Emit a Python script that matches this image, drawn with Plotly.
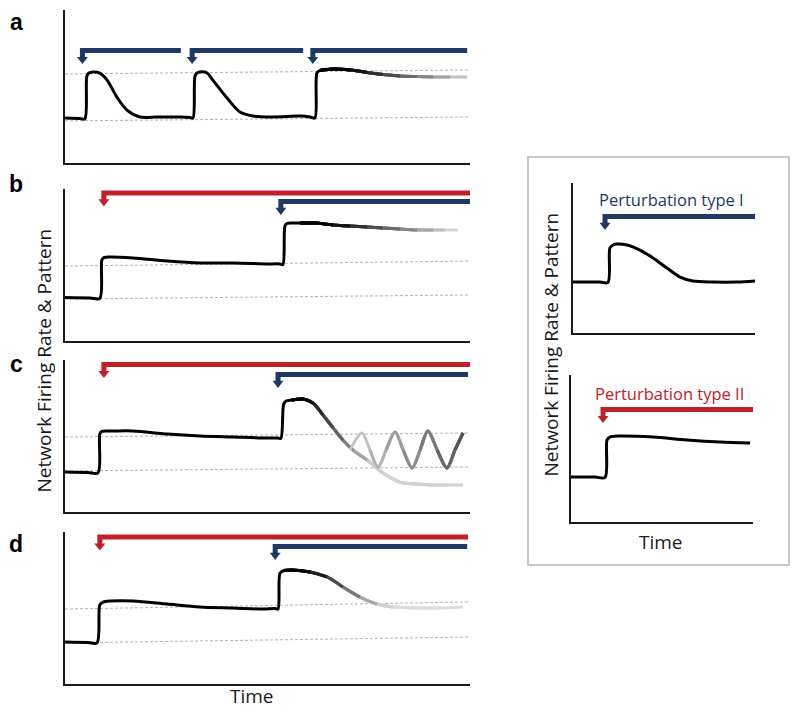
import plotly.graph_objects as go

# ---------------- data (time and firing rate in arbitrary 0-100 units) ----------------
# panel a : three successive type-I perturbations
a_time = [0, 3.7, 4.9, 5.4, 5.9, 6.9, 8.6, 10.4, 12.8, 15.3, 18.5, 22.7, 28.4, 30.9, 31.6,
          32.1, 32.6, 33.3, 35.1, 36.5, 40.0, 43.2, 46.4, 51.4, 58.0, 60.5, 61.7,
          62.2, 63.0, 66.2, 70.4, 74.6, 78.5, 82.7, 86.9, 90.9, 95.1, 99.3]
a_rate = [29.4, 29.1, 28.8, 56.9, 58.8, 59.5, 58.8, 54.2, 43.1, 34.6, 30.1, 30.1, 30.1, 29.7, 29.4,
          56.9, 58.8, 59.5, 58.8, 54.2, 42.5, 33.3, 30.7, 30.1, 30.7, 30.1, 29.4,
          58.8, 60.5, 61.4, 60.8, 59.2, 57.8, 56.9, 56.5, 56.2, 56.2, 56.2]

# panel b
b_time = [0, 6.2, 8.6, 9.1, 9.6, 11.1, 16.8, 25.2, 33.3, 41.5, 49.9, 53.1, 53.8,
          54.3, 54.8, 56.0, 58.0, 62.2, 66.2, 70.4, 74.6, 78.5, 82.7, 86.9, 90.9, 93.8, 97.0]
b_rate = [28.6, 28.3, 28.0, 53.3, 54.9, 55.3, 54.6, 52.6, 51.3, 51.3, 50.7, 50.7, 50.3,
          75.7, 77.3, 77.6, 77.6, 77.6, 76.3, 75.7, 75.0, 74.3, 73.7, 73.0, 73.0, 73.0, 73.0]

# panel c (main trace + oscillating branch)
c_time = [0, 5.7, 8.15, 8.6, 9.1, 10.4, 11.9, 16.8, 25.2, 33.3, 41.5, 48.9, 52.6, 53.3,
          54.0, 54.6, 56.0, 58.8, 61.2, 63.7, 66.2, 68.6, 71.1, 74.6, 78.5, 82.7, 86.9, 90.9, 94.6, 98.3]
c_rate = [26.3, 26.0, 25.7, 51.3, 53.0, 53.3, 53.3, 53.3, 51.3, 50.0, 49.3, 48.7, 48.7, 48.4,
          71.0, 73.0, 73.7, 74.3, 71.7, 63.8, 55.3, 47.4, 40.8, 34.2, 25.7, 19.7, 18.4, 17.8, 17.8, 17.8]
c_osc_time = [70.4, 73.3, 75.3, 77.3, 79.3, 81.5, 83.5, 85.7, 87.7, 89.6, 91.9, 94.3, 96.3, 98.3]
c_osc_rate = [40.8, 52.0, 40.8, 29.6, 40.8, 52.6, 40.8, 29.0, 40.8, 53.3, 40.8, 29.0, 40.8, 52.0]

# panel d
d_time = [0, 5.7, 7.9, 8.6, 9.4, 11.1, 16.8, 25.2, 33.3, 41.5, 48.9, 51.9, 52.6,
          53.1, 54.1, 56.3, 60.5, 64.7, 68.6, 72.8, 77.0, 81.0, 86.9, 92.6, 98.3]
d_rate = [27.6, 27.3, 27.0, 52.0, 53.9, 54.6, 54.6, 52.6, 50.7, 50.0, 49.3, 49.7, 49.3,
          73.0, 74.7, 75.0, 73.7, 70.4, 63.8, 57.2, 52.6, 50.7, 50.0, 50.0, 50.7]

# legend panels
t1_time = [0, 14.8, 19.2, 20.3, 22.0, 24.2, 29.7, 36.8, 44.0, 51.6, 58.8, 65.9, 76.9, 90.1, 100]
t1_rate = [34.0, 34.0, 33.7, 56.7, 58.7, 59.3, 58.7, 55.3, 50.0, 43.3, 37.3, 34.7, 34.0, 34.0, 34.7]
t2_time = [0, 13.2, 18.7, 19.8, 21.4, 26.9, 45.1, 63.7, 81.9, 98.4]
t2_rate = [30.6, 30.6, 30.3, 55.8, 57.8, 58.5, 57.8, 55.8, 54.4, 53.7]

# perturbations: onset time, end time, level, type
a_pert_onset = [4.3, 31.4, 61.2]
a_pert_end = [28.6, 58.8, 99.3]
a_pert_level = [73.5, 73.5, 73.5]
a_pert_type = ["I", "I", "I"]
b_pert_onset = [9.6, 53.3]
b_pert_end = [100, 100]
b_pert_level = [97.4, 91.8]
b_pert_type = ["II", "I"]
c_pert_onset = [9.6, 52.6]
c_pert_end = [100, 99.5]
c_pert_level = [97.0, 90.5]
c_pert_type = ["II", "I"]
d_pert_onset = [8.6, 51.9]
d_pert_end = [99.5, 99.3]
d_pert_level = [96.7, 90.5]
d_pert_type = ["II", "I"]
t1_pert_onset, t1_pert_end, t1_pert_level, t1_pert_type = [17.6], [100], [77.7], ["I"]
t2_pert_onset, t2_pert_end, t2_pert_level, t2_pert_type = [17.6], [100], [76.5], ["II"]

# dashed reference levels (left value, right value)
a_ref = [(27.5, 30.1), (58.2, 60.8)]
b_ref = [(27.6, 30.3), (49.3, 52.6)]
c_ref = [(27.0, 29.6), (49.3, 52.0)]
d_ref = [(27.0, 30.9), (49.3, 54.0)]

panel_letters = ["a", "b", "c", "d"]
y_title = "Network Firing Rate & Pattern"
x_title = "Time"
legend_titles = ["Perturbation type I", "Perturbation type II"]

# ---------------- style / layout ----------------
OFF = 8                      # default page margin around the plot div
W, H = 800 - OFF, 713 - OFF  # figure size so the page is exactly 800 x 713

BLUE = "#1F3864"
RED = "#C0202A"
PCOLOR = {"I": BLUE, "II": RED}
FONT = "Open Sans"


def px_x(px):
    return (px - OFF) / W


def px_y(py):
    return 1 - (py - OFF) / H


# name, x-left px, x-right px, y-top px, y-bottom px (page pixels)
PANELS = [
    ("a", 65, 470, 10, 163),
    ("b", 65, 470, 189, 341),
    ("c", 65, 470, 360, 512),
    ("d", 65, 470, 532, 684),
    ("t1", 573, 755, 183, 333),
    ("t2", 571, 753, 375, 522),
]
PIDX = {p[0]: i for i, p in enumerate(PANELS)}

fig = go.Figure()

axis_style = dict(range=[0, 100], showline=True, linecolor="#1a1a1a", linewidth=1.6,
                  showgrid=False, zeroline=False, showticklabels=False, ticks="",
                  fixedrange=True)
lay = {}
for i, (key, x0, x1, yt, yb) in enumerate(PANELS):
    n = "" if i == 0 else str(i + 1)
    lay["xaxis" + n] = dict(domain=[px_x(x0), px_x(x1)], anchor="y" + n, **axis_style)
    lay["yaxis" + n] = dict(domain=[px_y(yb), px_y(yt)], anchor="x" + n, **axis_style)
fig.update_layout(**lay)


def axrefs(key):
    i = PIDX[key]
    n = "" if i == 0 else str(i + 1)
    return "x" + n, "y" + n


def add_line(key, t, r, color, width=3, shape="spline", dash=None):
    xa, ya = axrefs(key)
    fig.add_trace(go.Scatter(x=list(t), y=list(r), mode="lines", xaxis=xa, yaxis=ya,
                             line=dict(color=color, width=width, shape=shape, smoothing=0.85,
                                       dash=dash),
                             hoverinfo="skip", showlegend=False))


def rgb(g):
    g = int(round(g))
    return f"rgb({g},{g},{g})"


def draw_curve(key, t, r, fade=None):
    if fade is None:
        add_line(key, t, r, "black")
        return
    f0, f1, g1 = fade

    def gray(tt):
        if tt <= f0:
            return 0
        if tt >= f1:
            return g1
        return g1 * (tt - f0) / (f1 - f0)

    n = len(t)
    k0 = max(i for i in range(n) if t[i] <= f0)
    for k in range(n - 1, k0, -1):
        g = gray((t[k - 1] + t[k]) / 2)
        add_line(key, t[k0 - 1:k + 1], r[k0 - 1:k + 1], rgb(g))
    add_line(key, t[:k0 + 1], r[:k0 + 1], "black")


def draw_refs(key, refs):
    for left, right in refs:
        add_line(key, [0, 100], [left, right], "#b4b4b4", width=1, shape="linear",
                 dash="3px,2px")


HEAD = 9.5


def draw_perts(key, onsets, ends, levels, types):
    _, x0, x1, yt, yb = PANELS[PIDX[key]]
    ppu = (yb - yt) / 100.0
    xa, ya = axrefs(key)
    for on, en, lv, ty in zip(onsets, ends, levels, types):
        col = PCOLOR[ty]
        stem_end = lv - 7.5 / ppu
        head_c = lv - (13.5 - HEAD / 2) / ppu
        fig.add_trace(go.Scatter(x=[en, on, on], y=[lv, lv, stem_end], mode="lines",
                                 xaxis=xa, yaxis=ya, line=dict(color=col, width=5),
                                 hoverinfo="skip", showlegend=False))
        fig.add_trace(go.Scatter(x=[on], y=[head_c], mode="markers", xaxis=xa, yaxis=ya,
                                 marker=dict(symbol="triangle-down", size=HEAD, color=col,
                                             line=dict(width=0)),
                                 cliponaxis=False, hoverinfo="skip", showlegend=False))


# reference levels
draw_refs("a", a_ref)
draw_refs("b", b_ref)
draw_refs("c", c_ref)
draw_refs("d", d_ref)

# firing-rate traces
draw_curve("a", a_time, a_rate, fade=(70, 99, 205))
draw_curve("b", b_time, b_rate, fade=(66, 97, 225))
draw_curve("c", c_time, c_rate, fade=(59, 77, 210))
# oscillating branch: gets darker over time
osc_starts = list(range(0, len(c_osc_time) - 1, 2))
for j, s in enumerate(osc_starts):
    g = 195 - (195 - 85) * j / (len(osc_starts) - 1)
    add_line("c", c_osc_time[s:], c_osc_rate[s:], rgb(g))
draw_curve("d", d_time, d_rate, fade=(60, 80, 220))
draw_curve("t1", t1_time, t1_rate)
draw_curve("t2", t2_time, t2_rate)

# perturbation arrows
draw_perts("a", a_pert_onset, a_pert_end, a_pert_level, a_pert_type)
draw_perts("b", b_pert_onset, b_pert_end, b_pert_level, b_pert_type)
draw_perts("c", c_pert_onset, c_pert_end, c_pert_level, c_pert_type)
draw_perts("d", d_pert_onset, d_pert_end, d_pert_level, d_pert_type)
draw_perts("t1", t1_pert_onset, t1_pert_end, t1_pert_level, t1_pert_type)
draw_perts("t2", t2_pert_onset, t2_pert_end, t2_pert_level, t2_pert_type)

# ---------------- texts ----------------
ann = []


def txt(text, cx, cy, size, color="black", family=FONT, angle=0, weight="normal"):
    ann.append(dict(text=text, x=px_x(cx), y=px_y(cy), xref="paper", yref="paper",
                    showarrow=False, xanchor="center", yanchor="middle", textangle=angle,
                    font=dict(family=family, size=size, color=color, weight=weight)))


for lab, cy in zip(panel_letters, [22, 184, 364, 544]):
    txt(lab, 16, cy, 23, family="Liberation Sans, Arial", weight="bold")
txt(y_title, 43.5, 361, 19, color="#1a1a1a", angle=-90)
txt(x_title, 252, 696, 19, color="#1a1a1a")
txt(y_title, 550.5, 345, 19, color="#1a1a1a", angle=-90)
txt(x_title, 661, 542, 19, color="#1a1a1a")
txt(legend_titles[0], 671.5, 200, 16.5, color=BLUE)
txt(legend_titles[1], 669.5, 393, 16.5, color=RED)

fig.update_layout(
    width=W, height=H, margin=dict(l=0, r=0, t=0, b=0),
    paper_bgcolor="white", plot_bgcolor="white",
    annotations=ann,
    shapes=[dict(type="rect", xref="paper", yref="paper",
                 x0=px_x(528), x1=px_x(789), y0=px_y(565), y1=px_y(157),
                 line=dict(color="#c8c8c8", width=2), fillcolor="rgba(0,0,0,0)")],
    showlegend=False,
)

fig.write_html("out.html")
